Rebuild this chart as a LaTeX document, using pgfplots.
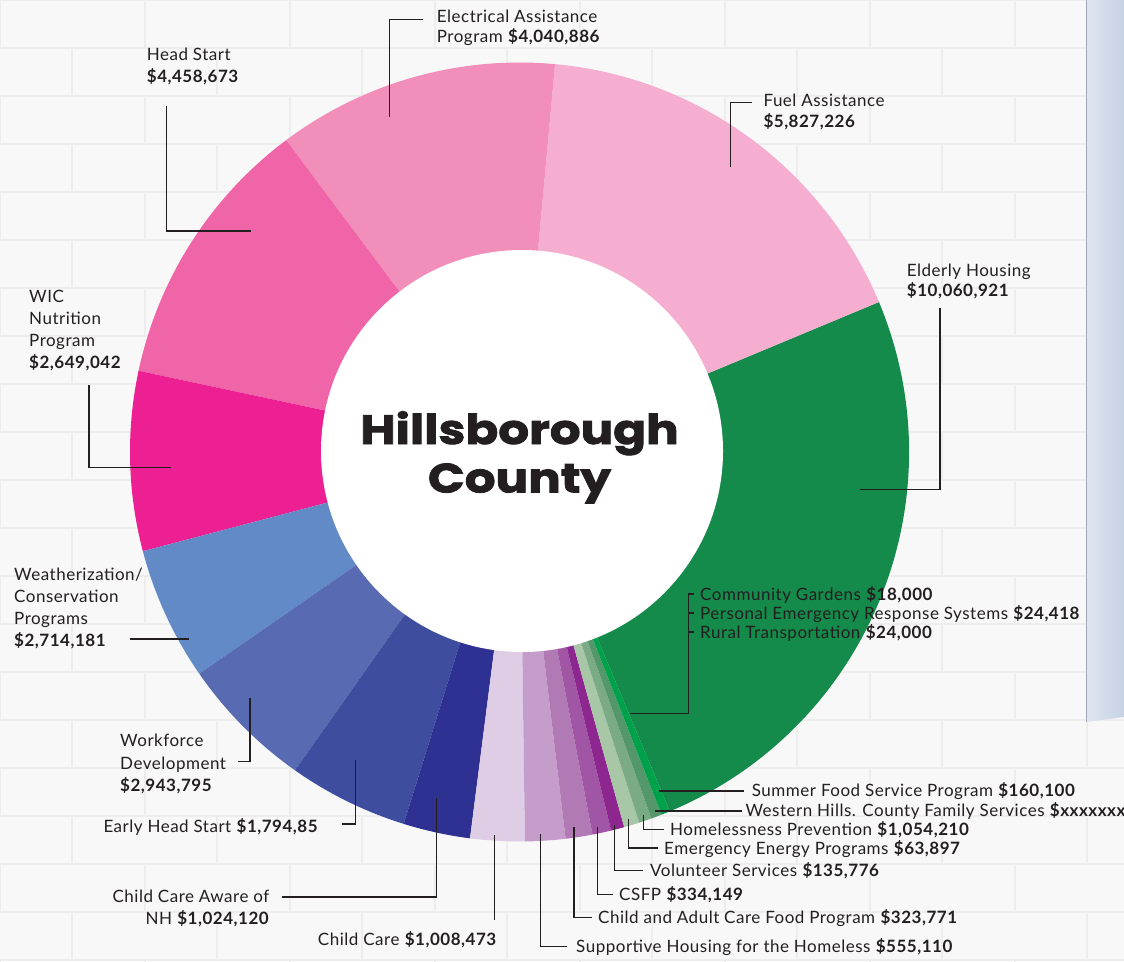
\documentclass[border=0pt]{standalone}
\usepackage{pgfplots}
\pgfplotsset{compat=1.18}
\usepackage{fontspec}
\setmainfont{Lato}[LetterSpace=3]
\newfontfamily\titlefont{Poppins}[BoldFeatures={FakeStretch=1.18, FakeBold=2}]
\definecolor{txt}{HTML}{231F20}
\definecolor{cElderly}{HTML}{148A4B}
\definecolor{cFuel}{HTML}{F5AED0}
\definecolor{cElec}{HTML}{F28EBA}
\definecolor{cHead}{HTML}{F065A8}
\definecolor{cWIC}{HTML}{EC2092}
\definecolor{cWeath}{HTML}{628AC6}
\definecolor{cWork}{HTML}{586BB2}
\definecolor{cEHS}{HTML}{3F4D9E}
\definecolor{cCCA}{HTML}{2E3092}
\definecolor{cCC}{HTML}{DFCCE5}
\definecolor{cSupp}{HTML}{C59DCA}
\definecolor{cCACFP}{HTML}{B27AB4}
\definecolor{cCSFP}{HTML}{A056A4}
\definecolor{cVol}{HTML}{8E2690}
\definecolor{cEmE}{HTML}{A7C7A6}
\definecolor{cHomeless}{HTML}{7AAB84}
\definecolor{cWest}{HTML}{54976A}
\definecolor{cSummer}{HTML}{00A14B}
\definecolor{bg}{HTML}{F8F8F8}
\definecolor{mortar}{HTML}{EDEDED}
\definecolor{panelL}{HTML}{DFE6F0}
\definecolor{panelR}{HTML}{C6D2E4}
\newcommand\lab{\fontsize{17}{20}\selectfont\color{txt}}
% wedge: start angle, end angle, colour
\newcommand\seg[3]{\fill[#3] (axis cs:519.5,452) -- ++(#1:389.5pt) arc[start angle=#1, end angle=#2, radius=389.5pt] -- cycle;}
\newcommand\lbl[3][base west]{\node[anchor=#1, inner sep=0pt, font=\lab] at (axis cs:#2) {#3};}
\begin{document}
\begin{tikzpicture}[x=1pt,y=1pt]
\useasboundingbox (0,0) rectangle (1124,961);
\fill[bg] (0,0) rectangle (1124,961);
\foreach \r in {0,...,20}{
  \pgfmathsetmacro\yy{961-\r*48}
  \pgfmathsetmacro\off{mod(\r,2)*72}
  \draw[mortar, line width=2.5pt] (0,\yy) -- (1124,\yy);
  \foreach \c in {0,...,8}{
    \pgfmathsetmacro\xx{\c*145+\off}
    \draw[mortar, line width=2.5pt] (\xx,\yy) -- (\xx,\yy-48);
  }
}
\shade[left color=panelL, right color=panelR] (1086,961) -- (1124,961) -- (1124,244) -- (1086,239) -- cycle;
\draw[panelR!80!black, line width=0.8pt] (1086,961) -- (1086,239);
\begin{axis}[x=1pt, y=1pt, xmin=0, xmax=1124, ymin=0, ymax=961, y dir=reverse,
  hide axis, clip=false, at={(0,0)}, anchor=south west]
% segment angles (degrees, counter-clockwise from east)
\seg{292.7}{382.65}{cElderly}   % Elderly Housing 10,060,921
\seg{22.65}{84.76}{cFuel}       % Fuel Assistance 5,827,226
\seg{84.76}{126.8}{cElec}       % Electrical Assistance 4,040,886
\seg{126.8}{167.96}{cHead}      % Head Start 4,458,673
\seg{167.96}{194.76}{cWIC}      % WIC 2,649,042
\seg{194.76}{214.7}{cWeath}     % Weatherization 2,714,181
\seg{214.7}{234.8}{cWork}       % Workforce 2,943,795
\seg{234.8}{252.7}{cEHS}        % Early Head Start
\seg{252.7}{262.7}{cCCA}        % Child Care Aware
\seg{262.7}{270.8}{cCC}         % Child Care
\seg{270.8}{276.8}{cSupp}       % Supportive Housing
\seg{276.8}{280.8}{cCACFP}      % CACFP
\seg{280.8}{283.6}{cCSFP}       % CSFP
\seg{283.6}{285.6}{cVol}        % Volunteer
\seg{285.6}{287.9}{cEmE}        % Emergency Energy
\seg{287.9}{289.8}{cHomeless}   % Homelessness Prevention
\seg{289.8}{291.4}{cWest}       % Western Hills
\seg{291.4}{292.7}{cSummer}     % Summer Food
\fill[white] (axis cs:522,451) circle[radius=201pt];
% title
\node[anchor=base, inner sep=0pt, font=\titlefont\bfseries\fontsize{41}{48}\selectfont\color{txt}] at (axis cs:519.5,444) {Hillsborough};
\node[anchor=base, inner sep=0pt, font=\titlefont\bfseries\fontsize{41}{48}\selectfont\color{txt}] at (axis cs:519.5,492.5) {County};
% leaders
\begin{scope}[txt, line width=1.4pt]
\draw (axis cs:389.3,116.7) -- (axis cs:389.3,19.3) -- (axis cs:423,19.3);
\draw (axis cs:166.7,106) -- (axis cs:166.7,231) -- (axis cs:251,231);
\draw (axis cs:730.7,167.3) -- (axis cs:730.7,102.7) -- (axis cs:751.7,102.7);
\draw (axis cs:860,489.3) -- (axis cs:940,489.3) -- (axis cs:940,308);
\draw (axis cs:89,385) -- (axis cs:89,467.7) -- (axis cs:170.7,467.7);
\draw (axis cs:130,639) -- (axis cs:189,639);
\draw (axis cs:237.7,761.7) -- (axis cs:250,761.7) -- (axis cs:250,698.3);
\draw (axis cs:342.3,824) -- (axis cs:355.3,824) -- (axis cs:355.3,760);
\draw (axis cs:282,897) -- (axis cs:436.7,897) -- (axis cs:436.7,798.3);
\draw (axis cs:494.3,835) -- (axis cs:494.3,920);
\draw (axis cs:540.5,834) -- (axis cs:540.5,946.5) -- (axis cs:567,946.5);
\draw (axis cs:574,827.3) -- (axis cs:574,917.5) -- (axis cs:592,917.5);
\draw (axis cs:597.7,827.3) -- (axis cs:597.7,894.5) -- (axis cs:613,894.5);
\draw (axis cs:614.3,825) -- (axis cs:614.3,870.5) -- (axis cs:643,870.5);
\draw (axis cs:628.3,819.3) -- (axis cs:628.3,848) -- (axis cs:658,848);
\draw (axis cs:643.3,815) -- (axis cs:643.3,829.5) -- (axis cs:664,829.5);
\draw (axis cs:655,811) -- (axis cs:741.5,811);
\draw (axis cs:659,791) -- (axis cs:744,791);
\draw (axis cs:630,713.3) -- (axis cs:688.4,713.3) -- (axis cs:688.4,594) -- (axis cs:694,594);
\draw (axis cs:688.4,613) -- (axis cs:694,613);
\draw (axis cs:688.4,632) -- (axis cs:694,632);
\end{scope}
% labels
\lbl{436.7,22.7}{Electrical Assistance}
\lbl{436.7,42.3}{Program \textbf{\$4,040,886}}
\lbl{146.7,61}{Head Start}
\lbl{146.7,82.3}{\textbf{\$4,458,673}}
\lbl{763.3,106.7}{Fuel Assistance}
\lbl{763.3,127.7}{\textbf{\$5,827,226}}
\lbl{906.7,276.7}{Elderly Housing}
\lbl{906.7,296.7}{\textbf{\$10,060,921}}
\lbl{29,302.5}{WIC}
\lbl{29,324.5}{Nutrition}
\lbl{29,346.5}{Program}
\lbl{29,368.5}{\textbf{\$2,649,042}}
\lbl{14,580}{Weatherization/}
\lbl{14,602.5}{Conservation}
\lbl{14,624.5}{Programs}
\lbl{14,646.7}{\textbf{\$2,714,181}}
\lbl{120,746.7}{Workforce}
\lbl{120,769.5}{Development}
\lbl{120,791.7}{\textbf{\$2,943,795}}
\lbl{103.3,832.3}{Early Head Start \textbf{\$1,794,85}}
\lbl[base east]{269.5,902}{Child Care Aware of}
\lbl[base east]{269.5,924}{NH \textbf{\$1,024,120}}
\lbl[base east]{497,945}{Child Care \textbf{\$1,008,473}}
\lbl{576,952}{Supportive Housing for the Homeless \textbf{\$555,110}}
\lbl{598,923}{Child and Adult Care Food Program \textbf{\$323,771}}
\lbl{619,900}{CSFP \textbf{\$334,149}}
\lbl{650,876}{Volunteer Services \textbf{\$135,776}}
\lbl{664,854}{Emergency Energy Programs \textbf{\$63,897}}
\lbl{670,835}{Homelessness Prevention \textbf{\$1,054,210}}
\lbl{745.3,816.5}{Western Hills. County Family Services \textbf{\$xxxxxxx}}
\lbl{751.7,796.5}{Summer Food Service Program \textbf{\$160,100}}
\lbl{700,600}{Community Gardens \textbf{\$18,000}}
\lbl{700,619}{Personal Emergency Response Systems \textbf{\$24,418}}
\lbl{700,638}{Rural Transportation \textbf{\$24,000}}
\end{axis}
\end{tikzpicture}
\end{document}
